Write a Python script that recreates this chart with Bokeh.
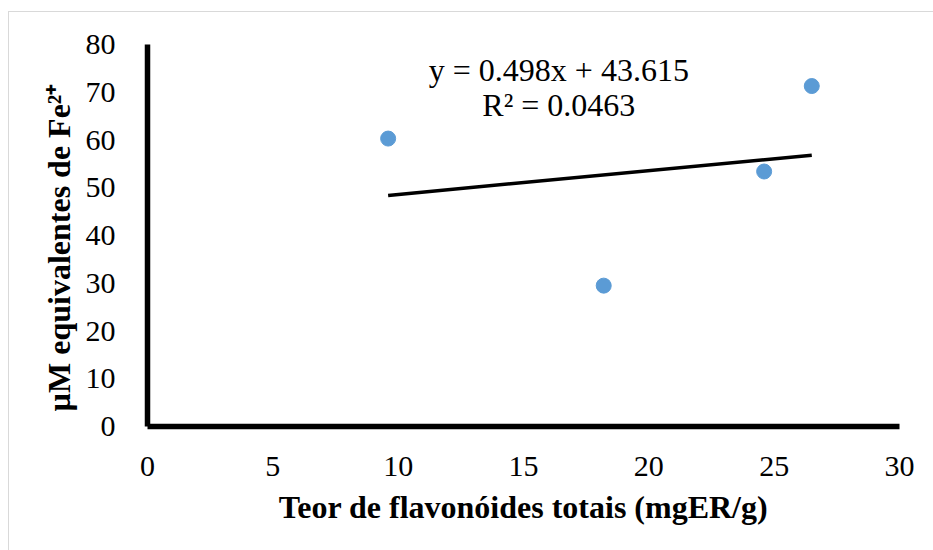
from bokeh.plotting import figure
from bokeh.models import Range1d, FixedTicker, Label
from bokeh.embed import file_html
from bokeh.resources import INLINE

# Data
flavonoides = [9.6, 18.2, 24.6, 26.5]
fe_equiv = [60.3, 29.5, 53.4, 71.3]
slope = 0.498
intercept = 43.615
eq_line1 = "y = 0.498x + 43.615"
eq_line2 = "R² = 0.0463"
x_ticks = [0, 5, 10, 15, 20, 25, 30]
y_ticks = [0, 10, 20, 30, 40, 50, 60, 70, 80]
x_title = "Teor de flavonóides totais (mgER/g)"
y_title = "µM equivalentes de Fe²⁺"

FONT = "Liberation Serif"

p = figure(width=925, height=539, output_backend="svg", toolbar_location=None,
           x_range=Range1d(0, 30), y_range=Range1d(0, 80),
           min_border_left=138, min_border_right=35,
           min_border_top=32, min_border_bottom=125)
p.styles = {"margin-left": "8px", "margin-top": "11px",
            "border-left": "1px solid #d9d9d9", "border-top": "1px solid #d9d9d9"}
p.outline_line_color = None
p.grid.visible = False
p.background_fill_color = "white"
p.border_fill_color = "white"

for ax in (p.xaxis[0], p.yaxis[0]):
    ax.axis_line_width = 5.5
    ax.axis_line_color = "black"
    ax.major_tick_line_color = None
    ax.minor_tick_line_color = None
    ax.major_label_text_font = FONT
    ax.major_label_text_font_size = "30px"
    ax.major_label_text_color = "black"
    ax.axis_label_text_font = FONT
    ax.axis_label_text_font_size = "32px"
    ax.axis_label_text_font_style = "bold"
    ax.axis_label_text_color = "black"

p.xaxis.ticker = FixedTicker(ticks=x_ticks)
p.yaxis.ticker = FixedTicker(ticks=y_ticks)
p.xaxis.major_label_standoff = 24
p.yaxis.major_label_standoff = 26
p.xaxis.axis_label = x_title
p.yaxis.axis_label = y_title + "\u00a0\u00a0\u00a0"
p.xaxis.axis_label_standoff = 10
p.yaxis.axis_label_standoff = 6

# trendline
x0, x1 = min(flavonoides), max(flavonoides)
p.line([x0, x1], [slope * x0 + intercept, slope * x1 + intercept],
       line_color="black", line_width=3.5)

p.scatter(flavonoides, fe_equiv, size=15, fill_color="#5B9BD5",
          line_color="#5B9BD5")

p.add_layout(Label(x=16.41, y=74.6, text=eq_line1, text_align="center",
                   text_baseline="alphabetic", text_font=FONT,
                   text_font_size="32px", text_color="black"))
p.add_layout(Label(x=16.41, y=67.4, text=eq_line2, text_align="center",
                   text_baseline="alphabetic", text_font=FONT,
                   text_font_size="32px", text_color="black"))

open("out.html", "w").write(file_html(p, INLINE))
